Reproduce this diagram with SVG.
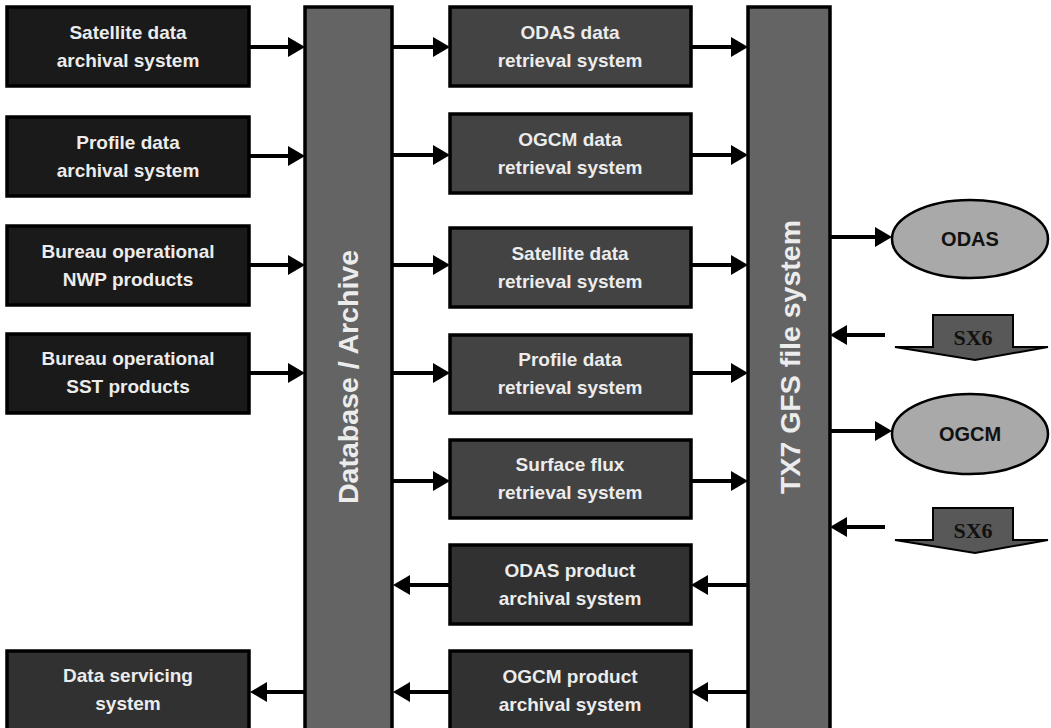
<svg xmlns="http://www.w3.org/2000/svg" width="1051" height="728" viewBox="0 0 1051 728">
<defs>
<marker id="ah" markerUnits="userSpaceOnUse" markerWidth="17" markerHeight="20" refX="9" refY="10" orient="auto">
<path d="M0,0 L17,10 L0,20 z" fill="#000"/>
</marker>
<style>
.src rect{fill:#1a1a1a;stroke:#000;stroke-width:3.5}
.mid rect{fill:#434343;stroke:#000;stroke-width:3.5}
.prod rect{fill:#313131;stroke:#000;stroke-width:3.5}
.col rect{fill:#646464;stroke:#000;stroke-width:3.5}
.t{font-family:"Liberation Sans",Arial,sans-serif;font-weight:bold;font-size:19px;fill:#ececec;text-anchor:middle}
.ct{font-family:"Liberation Sans",Arial,sans-serif;font-weight:bold;font-size:28.5px;fill:#ececec;text-anchor:middle}
.et{font-family:"Liberation Sans",Arial,sans-serif;font-weight:bold;font-size:20px;fill:#111;text-anchor:middle}
.sx{font-family:"Liberation Serif","Times New Roman",serif;font-weight:bold;font-size:22px;fill:#111;text-anchor:middle}
.ell{fill:#a9a9a9;stroke:#000;stroke-width:2.5}
.blk{fill:#585858;stroke:#000;stroke-width:2}
#connectors line{stroke:#000;stroke-width:4;marker-end:url(#ah)}
</style>
</defs>
<rect width="1051" height="728" fill="#fff"/>

<g id="db" class="col"><rect x="305" y="7" width="87" height="730"/><text class="ct" transform="translate(358,377) rotate(-90)">Database / Archive</text></g>
<g id="tx7" class="col"><rect x="748" y="7" width="82" height="730"/><text class="ct" transform="translate(800,357) rotate(-90)">TX7 GFS file system</text></g>

<g id="src1" class="src"><rect x="7" y="7" width="242" height="79"/><text class="t" x="128" y="39">Satellite data</text><text class="t" x="128" y="67">archival system</text></g>
<g id="src2" class="src"><rect x="7" y="117" width="242" height="79"/><text class="t" x="128" y="149">Profile data</text><text class="t" x="128" y="177">archival system</text></g>
<g id="src3" class="src"><rect x="7" y="226" width="242" height="79"/><text class="t" x="128" y="258">Bureau operational</text><text class="t" x="128" y="286">NWP products</text></g>
<g id="src4" class="src"><rect x="7" y="334" width="242" height="79"/><text class="t" x="128" y="365">Bureau operational</text><text class="t" x="128" y="393">SST products</text></g>
<g id="dss" class="prod"><rect x="7" y="651" width="242" height="80"/><text class="t" x="128" y="682">Data servicing</text><text class="t" x="128" y="710">system</text></g>

<g id="m1" class="mid"><rect x="450" y="7" width="241" height="79"/><text class="t" x="570" y="39">ODAS data</text><text class="t" x="570" y="67">retrieval system</text></g>
<g id="m2" class="mid"><rect x="450" y="114" width="241" height="79"/><text class="t" x="570" y="146">OGCM data</text><text class="t" x="570" y="174">retrieval system</text></g>
<g id="m3" class="mid"><rect x="450" y="228" width="241" height="79"/><text class="t" x="570" y="260">Satellite data</text><text class="t" x="570" y="288">retrieval system</text></g>
<g id="m4" class="mid"><rect x="450" y="335" width="241" height="78"/><text class="t" x="570" y="366">Profile data</text><text class="t" x="570" y="394">retrieval system</text></g>
<g id="m5" class="mid"><rect x="450" y="440" width="241" height="78"/><text class="t" x="570" y="471">Surface flux</text><text class="t" x="570" y="499">retrieval system</text></g>
<g id="m6" class="prod"><rect x="450" y="545" width="241" height="79"/><text class="t" x="570" y="577">ODAS product</text><text class="t" x="570" y="605">archival system</text></g>
<g id="m7" class="prod"><rect x="450" y="651" width="241" height="80"/><text class="t" x="570" y="683">OGCM product</text><text class="t" x="570" y="711">archival system</text></g>

<g id="odas"><ellipse class="ell" cx="970" cy="239" rx="78" ry="39"/><text class="et" x="970" y="246">ODAS</text></g>
<g id="ogcm"><ellipse class="ell" cx="970" cy="434" rx="78" ry="40"/><text class="et" x="970" y="441">OGCM</text></g>
<g id="sx6a"><polygon class="blk" points="933,315 1013,315 1013,347 1048,347 975,360 895,347 933,347"/><text class="sx" x="973" y="345">SX6</text></g>
<g id="sx6b"><polygon class="blk" points="933,508 1013,508 1013,540 1048,540 975,553 895,540 933,540"/><text class="sx" x="973" y="538">SX6</text></g>

<g id="connectors">
<line x1="249" y1="47" x2="297" y2="47"/>
<line x1="249" y1="156" x2="297" y2="156"/>
<line x1="249" y1="265" x2="297" y2="265"/>
<line x1="249" y1="373" x2="297" y2="373"/>
<line x1="393" y1="47" x2="442" y2="47"/>
<line x1="393" y1="155" x2="442" y2="155"/>
<line x1="393" y1="265" x2="442" y2="265"/>
<line x1="393" y1="373" x2="442" y2="373"/>
<line x1="393" y1="481" x2="442" y2="481"/>
<line x1="691" y1="47" x2="740" y2="47"/>
<line x1="691" y1="155" x2="740" y2="155"/>
<line x1="691" y1="265" x2="740" y2="265"/>
<line x1="691" y1="373" x2="740" y2="373"/>
<line x1="691" y1="481" x2="740" y2="481"/>
<line x1="748" y1="585" x2="699" y2="585"/>
<line x1="748" y1="692" x2="699" y2="692"/>
<line x1="450" y1="585" x2="401" y2="585"/>
<line x1="450" y1="692" x2="401" y2="692"/>
<line x1="305" y1="692" x2="258" y2="692"/>
<line x1="830" y1="237" x2="884" y2="237"/>
<line x1="830" y1="431" x2="884" y2="431"/>
<line x1="885" y1="335" x2="838" y2="335"/>
<line x1="885" y1="527" x2="838" y2="527"/>
</g>
</svg>
